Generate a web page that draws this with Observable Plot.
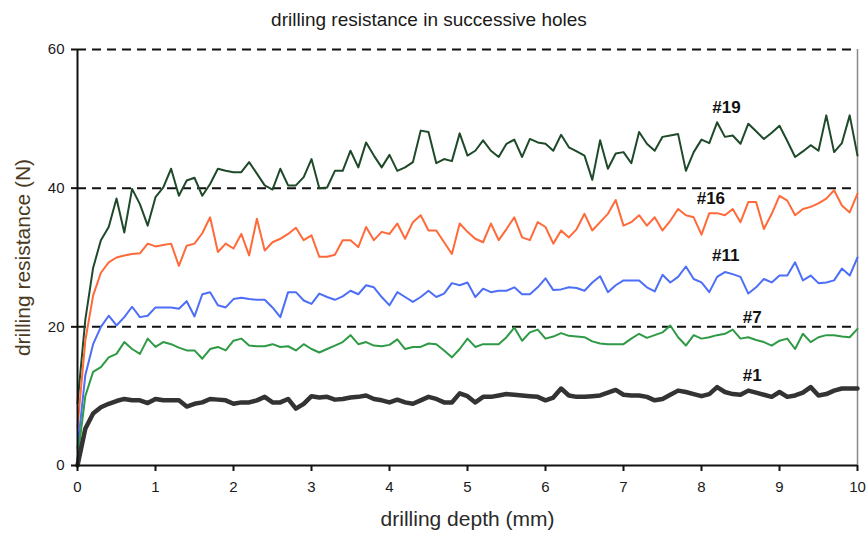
<!DOCTYPE html>
<html>
<head>
<meta charset="utf-8">
<script src="https://cdn.jsdelivr.net/npm/d3@7"></script>
<script src="https://cdn.jsdelivr.net/npm/@observablehq/plot@0.6"></script>
<style>
  html, body { margin: 0; padding: 0; background: #fff; }
  #title { position: relative; width: 868px; height: 30px; font-family: "Liberation Sans", Arial, sans-serif; }
  #title span { position: absolute; top: 9px; left: 0; width: 858px; text-align: center; font-size: 19px; line-height: 21px; color: #1a1a1a; white-space: nowrap; }
  #chart svg { display: block; }
</style>
</head>
<body>
<div id="title"><span>drilling resistance in successive holes</span></div>
<div id="chart"></div>
<script>
const depth = [0,0.1,0.2,0.3,0.4,0.5,0.6,0.7,0.8,0.9,1,1.1,1.2,1.3,1.4,1.5,1.6,1.7,1.8,1.9,2,2.1,2.2,2.3,2.4,2.5,2.6,2.7,2.8,2.9,3,3.1,3.2,3.3,3.4,3.5,3.6,3.7,3.8,3.9,4,4.1,4.2,4.3,4.4,4.5,4.6,4.7,4.8,4.9,5,5.1,5.2,5.3,5.4,5.5,5.6,5.7,5.8,5.9,6,6.1,6.2,6.3,6.4,6.5,6.6,6.7,6.8,6.9,7,7.1,7.2,7.3,7.4,7.5,7.6,7.7,7.8,7.9,8,8.1,8.2,8.3,8.4,8.5,8.6,8.7,8.8,8.9,9,9.1,9.2,9.3,9.4,9.5,9.6,9.7,9.8,9.9,10];

const hole19 = [9,21,28.5,32.5,34.4,38.5,33.6,39.9,37.7,34.6,38.7,40.1,42.8,38.9,41.1,41.5,38.9,40.6,42.8,42.5,42.3,42.3,43.75,42.1,40.4,39.8,42.8,40.4,40.4,41.6,44.2,40.0,40.1,42.5,42.5,45.4,43.0,46.6,44.7,43.0,44.8,42.5,43.0,43.75,48.3,48.1,43.6,44.2,43.9,47.9,44.7,45.4,46.9,45.4,44.5,46.4,47.0,44.5,47.1,46.6,46.4,45.4,47.7,45.9,45.3,44.7,41.2,46.9,42.8,45.0,45.2,43.6,48.1,46.4,45.4,47.4,47.6,47.8,42.5,45.2,47.0,46.5,49.5,47.4,47.6,46.4,49.3,48.2,47.1,48.0,49.0,46.8,44.5,45.3,46.2,45.4,50.5,45.2,46.5,50.5,44.7];

const hole16 = [5.5,18,24.5,27.8,29.3,30,30.3,30.5,30.6,32,31.6,31.8,32,28.8,31.7,32,33.5,35.8,30.8,32,31.3,33.4,30.3,35.6,31,32.2,32.7,33.4,34.3,32.5,33.2,30.1,30.1,30.4,32.5,32.5,31.5,34.4,32.5,33.7,33.4,34.9,32.7,35.1,36.1,33.9,33.9,32.2,30.5,34.9,33.7,32.7,32.2,34.9,32.5,34.1,35.8,32.9,32.5,35.1,34.4,32.0,33.9,32.9,34.1,36.3,33.9,35.1,36.3,38.3,34.6,35.1,36.1,34.6,35.8,33.9,35.3,37.0,36.1,35.8,33.3,36.4,36.4,36.1,37.0,35.1,38.0,38.0,34.1,36.3,38.9,38.2,36.1,37.0,37.3,37.8,38.5,39.7,37.5,36.5,39.2];

const hole11 = [2.5,13,17.5,20,21.6,20.2,21.4,22.9,21.4,21.6,22.8,22.8,22.8,22.6,23.7,21.5,24.7,25.0,23.1,22.8,24.0,24.2,24.0,23.9,23.9,22.8,21.4,25.0,25.0,23.8,23.3,24.8,24.3,23.9,24.4,25.2,24.7,26.0,25.7,24.3,23.1,25.0,24.3,23.6,24.3,25.2,24.3,24.8,26.3,26.0,26.4,24.3,25.5,25.0,25.2,25.2,25.7,24.7,24.7,25.7,27.0,25.3,25.4,25.7,25.6,25.2,26.4,27.3,25.0,26.0,26.7,26.7,26.7,25.7,25.1,27.5,26.4,27.2,28.7,26.9,26.4,25.0,27.2,27.9,27.6,27.2,24.8,25.7,26.9,26.4,27.4,27.4,29.3,26.7,27.4,26.3,26.4,26.7,28.4,27.4,30.0];

const hole7 = [1,10,13.5,14.2,15.6,16.1,17.8,16.8,16.1,18.3,17.1,17.8,17.5,17.0,16.6,16.6,15.4,16.8,17.1,16.6,18.0,18.3,17.3,17.2,17.2,17.5,17.1,17.2,16.6,17.5,16.8,16.3,16.8,17.3,17.8,18.8,17.5,17.8,17.3,17.2,17.4,18.2,16.8,17.1,17.1,17.6,17.5,16.6,15.6,16.8,18.3,17.1,17.5,17.5,17.5,18.5,19.9,18.0,19.2,19.6,18.3,18.6,19.1,18.7,18.6,18.5,17.9,17.6,17.5,17.5,17.5,18.3,19.0,18.4,18.8,19.2,20.2,18.5,17.3,18.8,18.3,18.5,18.8,19.0,19.6,18.3,18.5,18.1,17.8,17.3,18.0,18.3,16.8,19.0,17.8,18.5,18.8,18.8,18.6,18.5,19.7];

const hole1 = [0,5.3,7.5,8.4,8.9,9.3,9.6,9.4,9.4,9.0,9.6,9.4,9.4,9.4,8.5,8.9,9.1,9.6,9.5,9.4,8.9,9.1,9.1,9.4,9.9,9.1,9.1,9.6,8.2,8.9,10.0,9.8,9.9,9.5,9.6,9.8,9.9,10.1,9.6,9.4,9.1,9.5,9.1,8.9,9.4,9.9,9.6,9.1,9.1,10.4,10.0,9.1,9.9,9.9,10.1,10.3,10.2,10.1,10.0,9.9,9.4,9.8,11.1,10.1,9.9,9.9,10.0,10.1,10.5,10.9,10.2,10.1,10.1,9.9,9.4,9.6,10.2,10.8,10.6,10.3,10.0,10.3,11.3,10.6,10.3,10.2,10.8,10.5,10.2,9.9,10.6,9.9,10.1,10.5,11.3,10.1,10.3,10.8,11.1,11.1,11.1];

const seriesNames = ["#19", "#16", "#11", "#7", "#1"];
const seriesColors = ["#1f4a2a", "#ff6a3a", "#4d6ef6", "#2e9a45", "#333333"];
const seriesWidths = [2, 2, 2, 2, 4.5];
const seriesValues = [hole19, hole16, hole11, hole7, hole1];

// label anchor points (data coordinates)
const labelDepth = [8.32, 8.12, 8.31, 8.65, 8.65];
const labelForce = [51.6, 38.5, 30.3, 21.4, 13.0];

const xTicks = [0,1,2,3,4,5,6,7,8,9,10];
const yTicks = [0,20,40,60];
const gridValues = [20,40,60];

const lineMarks = seriesValues.map((vals, i) =>
  Plot.line(depth.map((d, j) => ({depth: d, force: vals[j]})), {
    x: "depth", y: "force",
    stroke: seriesColors[i], strokeWidth: seriesWidths[i],
    strokeLinejoin: "round", strokeLinecap: "round"
  })
);

const labels = seriesNames.map((n, i) => ({name: n, depth: labelDepth[i], force: labelForce[i]}));

const chart = Plot.plot({
  width: 868,
  height: 508,
  marginTop: 19,
  marginBottom: 73,
  marginLeft: 77,
  marginRight: 11,
  style: {fontFamily: "'Liberation Sans', Arial, sans-serif", fontSize: "15px", color: "#1a1a1a", background: "#fff"},
  x: {domain: [0, 10]},
  y: {domain: [0, 60]},
  marks: [
    Plot.ruleY(gridValues, {stroke: "#111", strokeWidth: 2, strokeDasharray: "9,6"}),
    Plot.ruleX([10], {stroke: "#888", strokeWidth: 1.5}),
    ...lineMarks,
    Plot.ruleY([0], {stroke: "#111", strokeWidth: 2}),
    Plot.ruleX([0], {stroke: "#111", strokeWidth: 2}),
    Plot.axisX({ticks: xTicks, tickSize: 6, tickPadding: 10, label: null, stroke: "#111", strokeWidth: 2, fontSize: 15}),
    Plot.axisY({ticks: yTicks, tickSize: 6, tickPadding: 7, label: null, stroke: "#111", strokeWidth: 2, fontSize: 15}),
    Plot.text(labels, {x: "depth", y: "force", text: "name", fontWeight: "bold", fontSize: 17, fill: "#111"}),
    Plot.text(["drilling depth (mm)"], {frameAnchor: "bottom", textAnchor: "middle", dy: 60, fontSize: 21, fill: "#2a2a2a"}),
    Plot.text(["drilling resistance (N)"], {frameAnchor: "left", textAnchor: "middle", rotate: -90, dx: -54, fontSize: 21, fill: "#4a3a22"})
  ]
});
document.getElementById("chart").appendChild(chart);
</script>
</body>
</html>
